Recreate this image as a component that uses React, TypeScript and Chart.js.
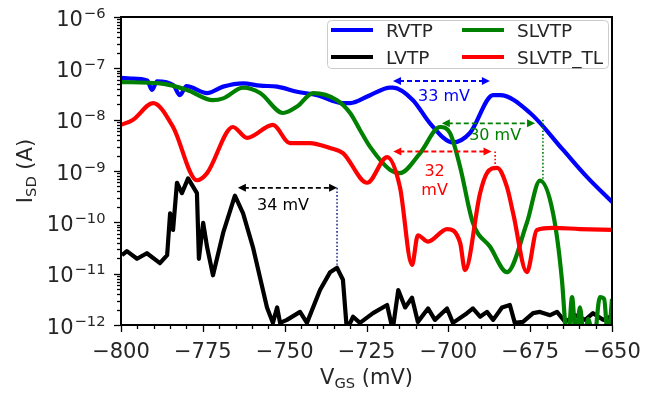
import React, { useEffect, useRef } from 'react';
import { Chart, registerables } from 'chart.js';

Chart.register(...registerables);

const FONT = '"DejaVu Sans", sans-serif';
const TEXT = '#262626';

// ---- data (V_GS in mV, I_SD in A) ----
const rvtpV = [-800, -797, -792, -790.5, -789, -784, -782, -780, -773.7, -768.8, -762.7, -757.5, -752.3, -746.2, -740.1, -732.2, -730, -723.9, -717.8, -716.9, -710.8, -705.6, -698.6, -693.4, -686.3, -684.2, -675, -665, -657.6, -650];
const rvtpI = [6.5e-8, 6.3e-8, 5.8e-8, 3.8e-8, 5.6e-8, 4.7e-8, 3.0e-8, 4.5e-8, 3.3e-8, 4.4e-8, 5.1e-8, 4.6e-8, 4.4e-8, 3.5e-8, 3.0e-8, 2.1e-8, 2.1e-8, 3.0e-8, 4.2e-8, 4.2e-8, 2.4e-8, 8.5e-9, 3.6e-9, 5.5e-9, 3.0e-8, 3.0e-8, 1.35e-8, 2.6e-9, 7.6e-10, 2.5e-10];

const lvtpV = [-799.7, -798.2, -795.1, -792.1, -788.1, -785.9, -785, -784.1, -782.9, -781.4, -779.5, -776.8, -776.2, -774.9, -773.7, -771.9, -768.8, -765.2, -762.7, -759.7, -755.4, -753.6, -752.3, -751.4, -749.3, -745.3, -743.2, -739.2, -736.1, -734, -732.2, -731, -729.1, -727, -723, -718.7, -717, -715.3, -713.2, -711.1, -709.3, -706.2, -704.1, -700.4, -698.6, -694.3, -692.5, -690.3, -688.2, -686.3, -683.6, -681.2, -679.7, -677.2, -674.1, -672, -668.9, -666.8, -664.3, -661.3, -658.2, -655.8, -652.7, -650];
const lvtpI = [2.3e-11, 2.75e-11, 1.95e-11, 2.5e-11, 1.6e-11, 2.3e-11, 1.5e-10, 7.1e-11, 5.9e-10, 3.7e-10, 7.2e-10, 3.7e-10, 1.95e-11, 9.8e-11, 3.3e-11, 9.3e-12, 6.2e-11, 3.3e-10, 1.5e-10, 3.3e-11, 2.2e-12, 1.1e-12, 2.2e-12, 1.1e-12, 1.26e-12, 1.8e-12, 1.1e-12, 4.8e-12, 1.07e-11, 1.3e-11, 7.6e-12, 8e-13, 1.45e-12, 1.1e-12, 1.7e-12, 2.45e-12, 8e-13, 4.8e-12, 2.2e-12, 3.4e-12, 1.15e-12, 2.1e-12, 1.26e-12, 2.1e-12, 1.1e-12, 1.7e-12, 2.1e-12, 1.45e-12, 1.8e-12, 1.26e-12, 2.2e-12, 2.45e-12, 1.1e-12, 1.15e-12, 1.7e-12, 1.8e-12, 1.55e-12, 1.8e-12, 1.15e-12, 1.55e-12, 1.26e-12, 1.7e-12, 1.26e-12, 1.5e-12];

const slvtpV = [-800, -788.1, -779.8, -771.9, -768.8, -762.7, -757.5, -750.5, -746.2, -741.3, -734, -730, -727, -723.9, -717.8, -714.8, -708.6, -702.5, -699.5, -696.4, -692.5, -687.2, -682.1, -676, -672, -668, -665.3, -664.3, -663.4, -662.2, -661, -659.8, -658.5, -657.3, -655.5, -653.7, -652.4, -651.2, -650];
const slvtpI = [5.4e-8, 5.1e-8, 3.8e-8, 2.4e-8, 2.6e-8, 4.2e-8, 3.3e-8, 1.35e-8, 1.8e-8, 3.3e-8, 2.4e-8, 1.35e-8, 6.3e-9, 2.95e-9, 1.05e-9, 9.1e-10, 2.24e-9, 7.2e-9, 5.5e-9, 1.2e-9, 9.8e-11, 3.3e-11, 1.07e-11, 9.8e-11, 6.5e-10, 1.5e-10, 7.6e-12, 1.1e-12, 5e-13, 3.5e-12, 5e-13, 2.2e-12, 5e-13, 1.3e-12, 5e-13, 3.5e-12, 3.2e-12, 5e-13, 3.2e-12];

const slvtpTlV = [-800, -796.3, -790.2, -784.1, -776.8, -773.7, -765.8, -761.5, -753.6, -748.4, -742.3, -736.1, -732.2, -724.8, -718.7, -714.8, -711.1, -709.3, -706.2, -700.4, -696.4, -694.9, -690.3, -688.2, -685.1, -682.1, -680.2, -676, -672.9, -668, -659.8, -650];
const slvtpTlI = [7.9e-9, 1.0e-8, 2.1e-8, 7.2e-9, 6.6e-10, 9.1e-10, 7.2e-9, 4.4e-9, 7.9e-9, 3.5e-9, 3.5e-9, 2.8e-9, 2.24e-9, 5.9e-10, 1.86e-9, 4.9e-10, 1.48e-11, 5.6e-11, 4.2e-11, 7.4e-11, 4.0e-11, 1.17e-11, 3.7e-10, 9.1e-10, 1.15e-9, 4.9e-10, 1.5e-10, 1.07e-11, 7.1e-11, 7.8e-11, 7.4e-11, 7.1e-11];

const seriesNames = ['RVTP', 'LVTP', 'SLVTP', 'SLVTP_TL'];
const seriesColors = ['#0000ff', '#000000', '#008000', '#ff0000'];
const seriesSmooth = [true, false, true, true];

const xTickValues = [-800, -775, -750, -725, -700, -675, -650];
const yTickExponents = [-12, -11, -10, -9, -8, -7, -6];

// annotations: spacing arrows (mV, A)
const arrowFrom = [-716.9, -702.0, -716.8, -764.3];
const arrowTo = [-687.3, -673.5, -686.8, -734.0];
const arrowAt = [5.66e-8, 8.5e-9, 2.4e-9, 4.7e-10];
const arrowColors = ['#0000ff', '#008000', '#ff0000', '#000000'];
const labelLines = [['33 mV'], ['30 mV'], ['32', 'mV'], ['34 mV']];
const labelV = [-701.3, -685.7, -704.2, -750.5];
const labelI = [3.0e-8, 5.2e-9, 1.05e-9, 2.3e-10];
const dropV = [NaN, -671.1, -685.7, -734.0];
const dropFrom = [NaN, 1.0e-8, 2.4e-9, 4.7e-10];
const dropTo = [NaN, 6.6e-10, 1.3e-9, 1.5e-11];
const dropColors = ['#0000ff', '#008000', '#ff0000', '#1f2f8f'];

function pts(xs: number[], ys: number[]) {
  return xs.map((x, i) => ({ x, y: ys[i] }));
}

function drawArrowHead(ctx: CanvasRenderingContext2D, x: number, y: number, dir: number, color: string) {
  const L = 8, H = 4;
  ctx.save();
  ctx.setLineDash([]);
  ctx.fillStyle = color;
  ctx.beginPath();
  ctx.moveTo(x, y);
  ctx.lineTo(x - dir * L, y - H);
  ctx.lineTo(x - dir * L, y + H);
  ctx.closePath();
  ctx.fill();
  ctx.restore();
}

function drawSubText(ctx: CanvasRenderingContext2D, parts: { t: string; sub?: boolean }[], cx: number, baseY: number, big: number, small: number, shift: number) {
  let total = 0;
  const widths = parts.map((p) => {
    ctx.font = `${p.sub ? small : big}px ${FONT}`;
    const w = ctx.measureText(p.t).width;
    total += w;
    return w;
  });
  let x = cx - total / 2;
  ctx.textAlign = 'left';
  ctx.textBaseline = 'alphabetic';
  parts.forEach((p, i) => {
    ctx.font = `${p.sub ? small : big}px ${FONT}`;
    ctx.fillText(p.t, x, baseY + (p.sub ? shift : 0));
    x += widths[i];
  });
}

const customPlugin = {
  id: 'customDraw',
  afterDatasetsDraw(chart: any) {
    const ctx: CanvasRenderingContext2D = chart.ctx;
    const xs = chart.scales.x;
    const ys = chart.scales.y;
    ctx.save();
    for (let i = 0; i < arrowFrom.length; i++) {
      const color = arrowColors[i];
      const x1 = xs.getPixelForValue(arrowFrom[i]);
      const x2 = xs.getPixelForValue(arrowTo[i]);
      const y = ys.getPixelForValue(arrowAt[i]);
      ctx.strokeStyle = color;
      ctx.lineWidth = 1.8;
      ctx.setLineDash([5, 3]);
      ctx.beginPath();
      ctx.moveTo(x1 + 6, y);
      ctx.lineTo(x2 - 6, y);
      ctx.stroke();
      drawArrowHead(ctx, x1, y, -1, color);
      drawArrowHead(ctx, x2, y, 1, color);
      if (!isNaN(dropV[i])) {
        const dx = xs.getPixelForValue(dropV[i]);
        ctx.strokeStyle = dropColors[i];
        ctx.lineWidth = 1.6;
        ctx.setLineDash([1.6, 2]);
        ctx.beginPath();
        ctx.moveTo(dx, ys.getPixelForValue(dropFrom[i]));
        ctx.lineTo(dx, ys.getPixelForValue(dropTo[i]));
        ctx.stroke();
      }
      ctx.setLineDash([]);
      ctx.fillStyle = color;
      ctx.font = `16px ${FONT}`;
      ctx.textAlign = 'center';
      ctx.textBaseline = 'alphabetic';
      const lx = xs.getPixelForValue(labelV[i]);
      const ly = ys.getPixelForValue(labelI[i]);
      labelLines[i].forEach((t, k) => {
        ctx.fillText(t, lx, ly + 6 + k * 19);
      });
    }
    ctx.restore();
  },
  afterDraw(chart: any) {
    const ctx: CanvasRenderingContext2D = chart.ctx;
    const xs = chart.scales.x;
    const ys = chart.scales.y;
    const a = chart.chartArea;
    ctx.save();
    // frame
    ctx.strokeStyle = '#000';
    ctx.lineWidth = 2;
    ctx.strokeRect(a.left, a.top, a.right - a.left, a.bottom - a.top);

    // x ticks
    ctx.lineWidth = 1.3;
    for (let v = -800; v <= -650; v += 5) {
      const px = Math.round(xs.getPixelForValue(v)) + 0.5;
      const major = v % 25 === 0;
      ctx.beginPath();
      ctx.moveTo(px, a.bottom);
      ctx.lineTo(px, a.bottom + (major ? 7 : 4));
      ctx.stroke();
    }
    // y ticks
    for (let e = -12; e <= -6; e++) {
      for (let k = 1; k <= 9; k++) {
        if (e === -6 && k > 1) break;
        const py = Math.round(ys.getPixelForValue(k * Math.pow(10, e))) + 0.5;
        ctx.beginPath();
        ctx.moveTo(a.left, py);
        ctx.lineTo(a.left - (k === 1 ? 7 : 4), py);
        ctx.stroke();
      }
    }
    // x tick labels
    ctx.fillStyle = TEXT;
    ctx.font = `21px ${FONT}`;
    ctx.textAlign = 'center';
    ctx.textBaseline = 'alphabetic';
    xTickValues.forEach((v) => {
      const label = (v < 0 ? '\u2212' : '') + Math.abs(v);
      ctx.fillText(label, xs.getPixelForValue(v), a.bottom + 33);
    });
    // y tick labels 10^n
    yTickExponents.forEach((e) => {
      const py = ys.getPixelForValue(Math.pow(10, e));
      const sup = '\u2212' + Math.abs(e);
      ctx.font = `14.7px ${FONT}`;
      const ws = ctx.measureText(sup).width;
      ctx.textAlign = 'right';
      const right = a.left - 15.5;
      ctx.fillText(sup, right, py + 0.5);
      ctx.font = `21px ${FONT}`;
      ctx.fillText('10', right - ws - 1, py + 8.5);
    });
    // axis titles
    ctx.fillStyle = TEXT;
    drawSubText(ctx, [{ t: 'V' }, { t: 'GS', sub: true }, { t: ' (mV)' }], (a.left + a.right) / 2, 384, 21, 14.7, 4);
    ctx.save();
    ctx.translate(32, (a.top + a.bottom) / 2);
    ctx.rotate(-Math.PI / 2);
    drawSubText(ctx, [{ t: 'I' }, { t: 'SD', sub: true }, { t: ' (A)' }], 0, 0, 21, 14.7, 4);
    ctx.restore();

    // legend
    const bx = 327, by = 20, bw = 281, bh = 48;
    ctx.fillStyle = 'rgba(255,255,255,0.8)';
    ctx.strokeStyle = '#cccccc';
    ctx.lineWidth = 1;
    ctx.beginPath();
    (ctx as any).roundRect(bx + 0.5, by + 0.5, bw, bh, 4);
    ctx.fill();
    ctx.stroke();
    const cols = [331, 462];
    const rows = [30, 57];
    const order = [0, 1, 2, 3];
    order.forEach((s, idx) => {
      const col = Math.floor(idx / 2);
      const row = idx % 2;
      const lx = cols[col];
      const ly = rows[row];
      ctx.strokeStyle = seriesColors[s];
      ctx.lineWidth = 4;
      ctx.lineCap = 'butt';
      ctx.beginPath();
      ctx.moveTo(lx, ly);
      ctx.lineTo(lx + 42, ly);
      ctx.stroke();
      ctx.fillStyle = TEXT;
      ctx.font = `18.5px ${FONT}`;
      ctx.textAlign = 'left';
      ctx.textBaseline = 'alphabetic';
      ctx.fillText(seriesNames[s], lx + 55, ly + 6.8);
    });
    ctx.restore();
  },
};

export default function App() {
  const ref = useRef<HTMLCanvasElement | null>(null);
  useEffect(() => {
    document.body.style.margin = '0';
    const canvas = ref.current;
    if (!canvas) return;
    const xs = [rvtpV, lvtpV, slvtpV, slvtpTlV];
    const ysArr = [rvtpI, lvtpI, slvtpI, slvtpTlI];
    // Chart.js draws dataset 0 on top -> reverse so SLVTP_TL is on top
    const datasets = [3, 2, 1, 0].map((i) => ({
      label: seriesNames[i],
      data: pts(xs[i], ysArr[i]),
      borderColor: seriesColors[i],
      backgroundColor: seriesColors[i],
      borderWidth: 4.2,
      pointRadius: 0,
      tension: 0,
      cubicInterpolationMode: seriesSmooth[i] ? 'monotone' : 'default',
      fill: false,
      clip: 0,
      borderJoinStyle: 'round' as const,
    }));
    const chart = new Chart(canvas, {
      type: 'line',
      data: { datasets },
      options: {
        animation: false,
        responsive: false,
        events: [],
        layout: { padding: { left: 0, right: 49, top: 17, bottom: 0 } },
        plugins: { legend: { display: false }, tooltip: { enabled: false } },
        scales: {
          x: {
            type: 'linear',
            min: -800,
            max: -650,
            grid: { display: false },
            border: { display: false },
            ticks: { display: false, stepSize: 25 },
            afterFit: (s: any) => { s.height = 70; },
          },
          y: {
            type: 'logarithmic',
            min: 1e-12,
            max: 1e-6,
            grid: { display: false },
            border: { display: false },
            ticks: { display: false },
            afterFit: (s: any) => { s.width = 121; },
          },
        },
      },
      plugins: [customPlugin],
    } as any);
    return () => chart.destroy();
  }, []);
  return (
    <div style={{ width: 661, height: 395 }}>
      <canvas ref={ref} width={661} height={395} style={{ display: 'block' }} />
    </div>
  );
}
